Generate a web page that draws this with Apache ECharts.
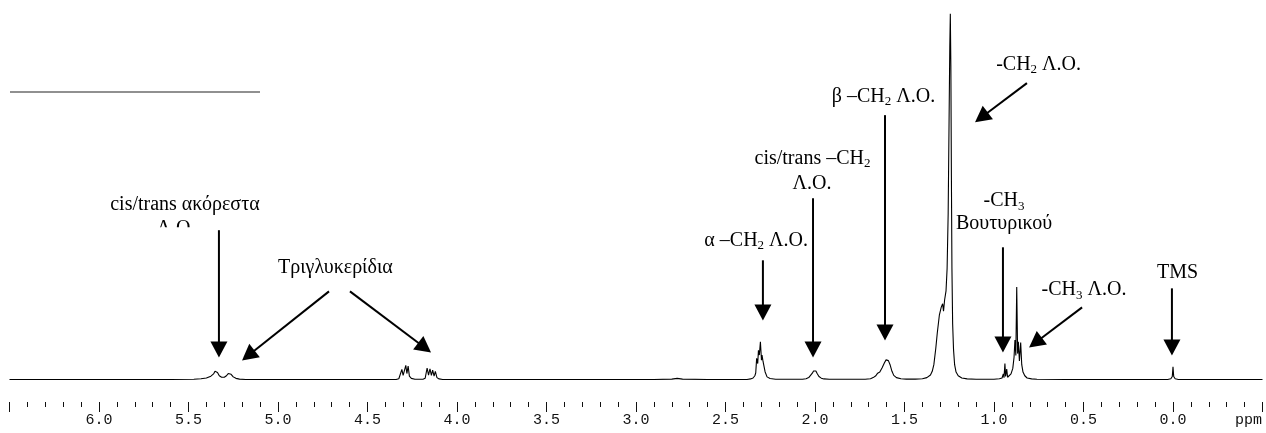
<!DOCTYPE html>
<html>
<head>
<meta charset="utf-8">
<script src="https://cdn.jsdelivr.net/npm/echarts@6.0.0/dist/echarts.min.js"></script>
<style>
  html, body { margin: 0; padding: 0; background: #fff; }
  #chart { width: 1266px; height: 433px; }
</style>
</head>
<body>
<div id="chart"></div>
<script>
// ---- Data (ppm, relative intensity) ----
var olefinic = [[6.5,0],[5.6,0],[5.47,0.05],[5.43,0.2],[5.4,0.4],[5.375,0.9],[5.36,1.5],[5.352,2.2],[5.345,2.4],[5.338,1.9],[5.328,1.0],[5.315,0.6],[5.30,0.6],[5.288,1.0],[5.278,1.6],[5.27,1.8],[5.262,1.4],[5.25,0.7],[5.235,0.3],[5.215,0.1],[5.18,0]];
var glycerol = [[4.34,0],[4.325,0.2],[4.315,0.6],[4.308,2.7],[4.301,1.1],[4.293,1.4],[4.286,3.8],[4.280,1.6],[4.273,3.6],[4.266,0.9],[4.255,0.3],[4.235,0.05],[4.19,0.05],[4.178,0.3],[4.167,3.1],[4.159,1.2],[4.151,2.9],[4.143,1.1],[4.136,2.5],[4.128,0.9],[4.121,2.2],[4.112,0.5],[4.1,0.15],[4.08,0]];
var allylic = [[2.9,0],[2.8,0.1],[2.77,0.3],[2.74,0.1],[2.6,0]];
var alphaCH2 = [[2.38,0],[2.36,0.15],[2.346,0.4],[2.336,1.0],[2.331,1.8],[2.326,5.7],[2.320,4.3],[2.316,7.9],[2.311,6.6],[2.305,10.2],[2.299,5.2],[2.296,6.6],[2.290,4.8],[2.286,5.2],[2.279,2.1],[2.268,0.7],[2.251,0.25],[2.22,0.05]];
var cisTransCH2 = [[2.07,0.05],[2.05,0.2],[2.035,0.5],[2.025,1.0],[2.015,1.7],[2.008,2.3],[2.004,2.6],[2.0,2.1],[1.995,2.3],[1.988,1.6],[1.978,0.8],[1.965,0.35],[1.95,0.15],[1.92,0.05]];
var betaCH2 = [[1.72,0.05],[1.69,0.2],[1.675,0.5],[1.66,1.0],[1.65,1.7],[1.645,1.3],[1.638,2.0],[1.625,3.2],[1.612,4.5],[1.603,5.3],[1.597,5.5],[1.59,5.1],[1.58,3.9],[1.57,2.2],[1.56,1.1],[1.545,0.5],[1.52,0.2],[1.49,0.1]];
var methylene = [[1.44,0.1],[1.40,0.2],[1.375,0.5],[1.355,1.2],[1.345,2.2],[1.336,4.0],[1.325,8.5],[1.317,12.5],[1.305,17.5],[1.295,19.5],[1.287,20.5],[1.282,18.5],[1.276,21.5],[1.268,24],[1.262,30],[1.256,45],[1.251,70],[1.247,90],[1.244,99],[1.241,85],[1.238,55],[1.235,30],[1.231,15],[1.226,8],[1.22,4],[1.212,2],[1.2,1],[1.18,0.4],[1.15,0.15],[1.1,0.05]];
var methyl = [[1.0,0.05],[0.97,0.2],[0.955,0.4],[0.948,1.5],[0.944,0.5],[0.939,4.3],[0.935,0.8],[0.929,2.8],[0.924,0.6],[0.915,0.8],[0.905,1.5],[0.895,3.0],[0.888,6],[0.883,10.7],[0.878,6.5],[0.873,25],[0.868,7],[0.864,10.2],[0.858,5],[0.851,10],[0.845,4],[0.838,2],[0.828,1],[0.815,0.4],[0.79,0.15],[0.76,0.05],[0.6,0]];
var tms = [[0.03,0],[0.012,0.2],[0.004,0.8],[0.0,3.4],[-0.004,0.8],[-0.012,0.2],[-0.03,0],[-0.5,0]];

// Axis ticks (ppm)
var axisMin = -0.5, axisMax = 6.5, tickStep = 0.5;
var tickLabels = ['6.0','5.5','5.0','4.5','4.0','3.5','3.0','2.5','2.0','1.5','1.0','0.5','0.0'];
var unitLabel = 'ppm';

// Annotation labels: [ppm, intensity] anchors, text, alignment
var labelPos = [[5.520,47.3],[5.570,40.8],[5.000,30.3],[2.039,37.6],[2.014,59.8],[2.017,53.0],[1.617,76.6],[0.751,85.3],[0.944,48.3],[0.944,42.2],[0.497,24.2],[-0.025,28.9]];
var labelText = ['cis/trans ακόρεστα','Λ.Ο.','Τριγλυκερίδια','α –CH{s|2} Λ.Ο.','cis/trans –CH{s|2}','Λ.Ο.','β –CH{s|2} Λ.Ο.','-CH{s|2} Λ.Ο.','-CH{s|3}','Βουτυρικού','-CH{s|3} Λ.Ο.','TMS'];
var labelAlign = ['center','center','left','right','center','center','center','center','center','center','center','center'];
var labelHidden = [false,true,false,false,false,false,false,false,false,false,false,false];

// Arrows: [ppm start, intensity start, ppm tip, intensity tip]
var arrows = [[5.330,40.4,5.330,5.96],[4.715,23.85,5.201,5.15],[4.598,23.85,4.145,7.32],[2.291,32.25,2.291,15.99],[2.011,49.05,2.011,5.96],[1.609,71.54,1.609,10.57],[0.816,80.22,1.106,69.65],[0.950,35.77,0.950,7.32],[0.508,19.51,0.804,8.67],[0.006,24.66,0.006,6.50]];

var spectrum = [].concat(olefinic, glycerol, allylic, alphaCH2, cisTransCH2, betaCH2, methylene, methyl, tms);

var chart = echarts.init(document.getElementById('chart'), null, {renderer: 'canvas'});
var serif = 'Liberation Serif, Times New Roman, serif';
var mono = 'Liberation Mono, Courier New, monospace';

chart.setOption({
  animation: false,
  backgroundColor: '#fff',
  grid: { left: 9.5, right: 3.5, top: 10, bottom: 31 },
  xAxis: {
    type: 'value', min: axisMin, max: axisMax, interval: tickStep, inverse: true,
    axisLine: { show: false, onZero: false },
    axisTick: { show: true, length: 10, lineStyle: { color: '#111', width: 1 } },
    minorTick: { show: true, splitNumber: 5, length: 5, lineStyle: { color: '#111', width: 1 } },
    splitLine: { show: false },
    axisLabel: {
      margin: 11, color: '#111', fontFamily: mono, fontSize: 15,
      formatter: function (v) {
        var s = v.toFixed(1);
        return tickLabels.indexOf(s) >= 0 ? s : '';
      }
    }
  },
  yAxis: { type: 'value', min: -6.1, max: 100, show: false },
  graphic: [
    { type: 'line', shape: { x1: 10, y1: 92, x2: 260, y2: 92 }, style: { stroke: '#6b6b6b', lineWidth: 1.5 } },
    { type: 'text', right: 4, top: 413, style: { text: unitLabel, fill: '#111', font: '15px ' + mono } }
  ],
  series: [
    {
      type: 'line', data: spectrum, showSymbol: false, symbol: 'none', silent: true,
      lineStyle: { color: '#000', width: 1.1 }, z: 2
    },
    {
      type: 'custom', silent: true, z: 3, clip: false,
      data: arrows,
      encode: { x: [0, 2], y: [1, 3] },
      renderItem: function (params, api) {
        var s = api.coord([api.value(0), api.value(1)]);
        var t = api.coord([api.value(2), api.value(3)]);
        var dx = t[0] - s[0], dy = t[1] - s[1];
        var L = Math.sqrt(dx * dx + dy * dy), ux = dx / L, uy = dy / L;
        var hl = 16, hw = 8.5;
        var bx = t[0] - ux * hl, by = t[1] - uy * hl;
        return {
          type: 'group',
          children: [
            { type: 'line', shape: { x1: s[0], y1: s[1], x2: t[0] - ux * (hl - 2), y2: t[1] - uy * (hl - 2) }, style: { stroke: '#000', lineWidth: 2 } },
            { type: 'polygon', shape: { points: [[t[0], t[1]], [bx - uy * hw, by + ux * hw], [bx + uy * hw, by - ux * hw]] }, style: { fill: '#000' } }
          ]
        };
      }
    },
    {
      type: 'custom', silent: true, z: 4, clip: false,
      data: labelPos.map(function (p, i) { return [p[0], p[1], i]; }),
      encode: { x: 0, y: 1 },
      renderItem: function (params, api) {
        var i = api.value(2);
        var p = api.coord([api.value(0), api.value(1)]);
        var children = [{
          type: 'text', x: p[0], y: p[1],
          style: {
            text: labelText[i], fill: '#000', fontSize: 20, fontFamily: serif,
            align: labelAlign[i], verticalAlign: 'middle', lineHeight: 24,
            rich: { s: { fontSize: 13, lineHeight: 12, verticalAlign: 'bottom', fontFamily: serif, fill: '#000' } }
          }
        }];
        if (labelHidden[i]) {
          children.push({ type: 'rect', shape: { x: p[0] - 30, y: p[1] - 1.5, width: 60, height: 20 }, style: { fill: '#fff' } });
        }
        return { type: 'group', children: children };
      }
    }
  ]
});
</script>
</body>
</html>
